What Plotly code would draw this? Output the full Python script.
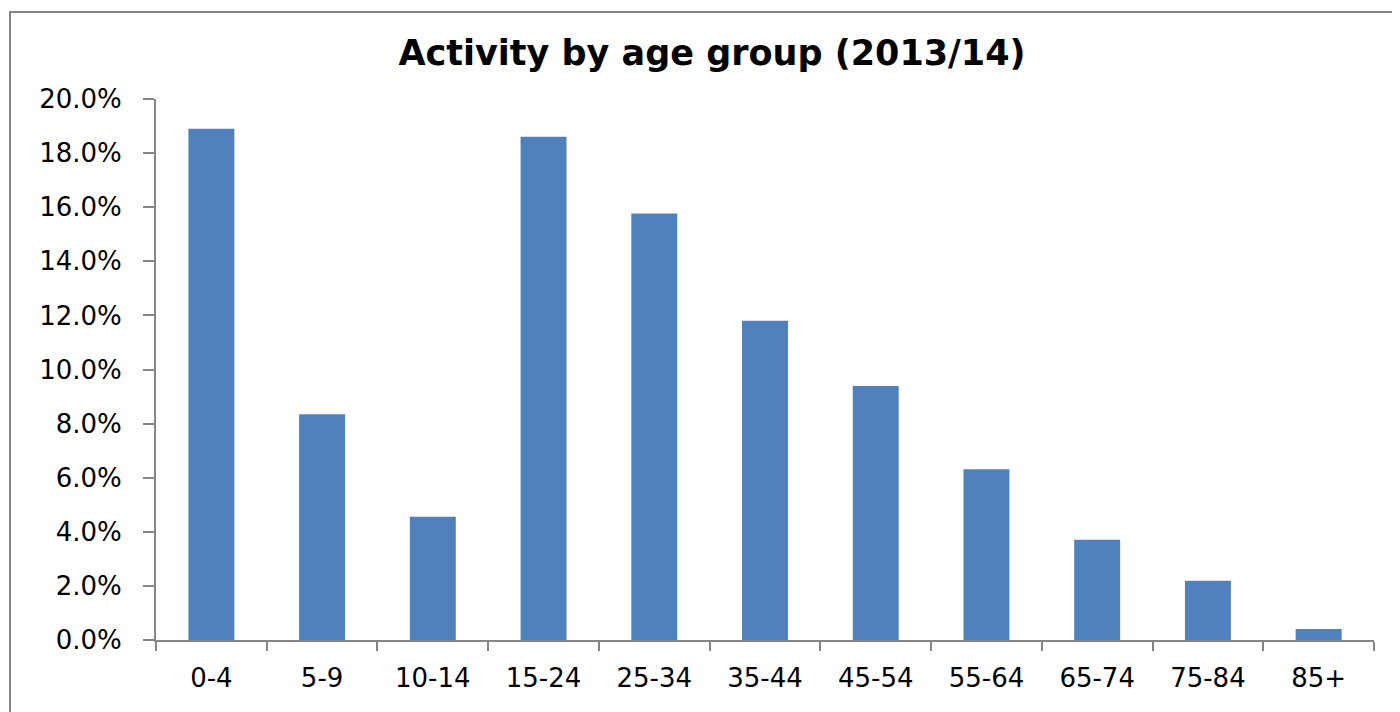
import plotly.graph_objects as go

categories = ["0-4", "5-9", "10-14", "15-24", "25-34", "35-44", "45-54", "55-64", "65-74", "75-84", "85+"]
values = [18.9, 8.35, 4.56, 18.6, 15.77, 11.8, 9.39, 6.31, 3.71, 2.19, 0.41]
y_ticks = [0, 2, 4, 6, 8, 10, 12, 14, 16, 18, 20]
y_tick_labels = [f"{v:.1f}%" for v in y_ticks]
title_text = "Activity by age group (2013/14)"

# page body has an 8px margin; compensate so the plot lands where the reference has it
OFF = 8
W, H = 1400 - OFF, 712 - OFF
L, R, T, B = 156 - OFF, 26, 99 - OFF, 72
pw, ph = W - L - R, H - T - B

fig = go.Figure(go.Bar(x=categories, y=values, marker_color="#4F81BD", marker_line_width=0))

fig.update_layout(
    width=W, height=H,
    margin=dict(l=L, r=R, t=T, b=B, pad=0),
    paper_bgcolor="white", plot_bgcolor="white",
    bargap=0.585,
    showlegend=False,
    title=dict(text=f"<b>{title_text}</b>", x=(712 - OFF) / W, xanchor="center",
               y=1 - (53 - OFF) / H, yanchor="middle",
               font=dict(family="DejaVu Sans", size=35, color="#000000")),
    font=dict(family="DejaVu Sans", size=26, color="#000000"),
    shapes=[dict(type="rect", xref="paper", yref="paper",
                 x0=(10 - OFF - L) / pw, x1=(W + 10 - L) / pw,
                 y0=(H - B - (H + 10)) / ph, y1=(H - B - (12 - OFF)) / ph,
                 line=dict(color="#868686", width=2), fillcolor="rgba(0,0,0,0)", layer="below")],
)
fig.update_xaxes(showgrid=False, showline=True, linecolor="#868686", linewidth=2,
                 ticks="outside", ticklen=9, tickcolor="#868686", tickwidth=1.5,
                 tickson="boundaries", ticklabelstandoff=14)
fig.update_yaxes(range=[0, 20], showgrid=False, showline=True, linecolor="#868686", linewidth=2,
                 ticks="outside", ticklen=11, tickcolor="#868686", tickwidth=1.5,
                 tickvals=y_ticks, ticktext=y_tick_labels, zeroline=False,
                 ticklabelstandoff=16)

fig.write_html("out.html")
